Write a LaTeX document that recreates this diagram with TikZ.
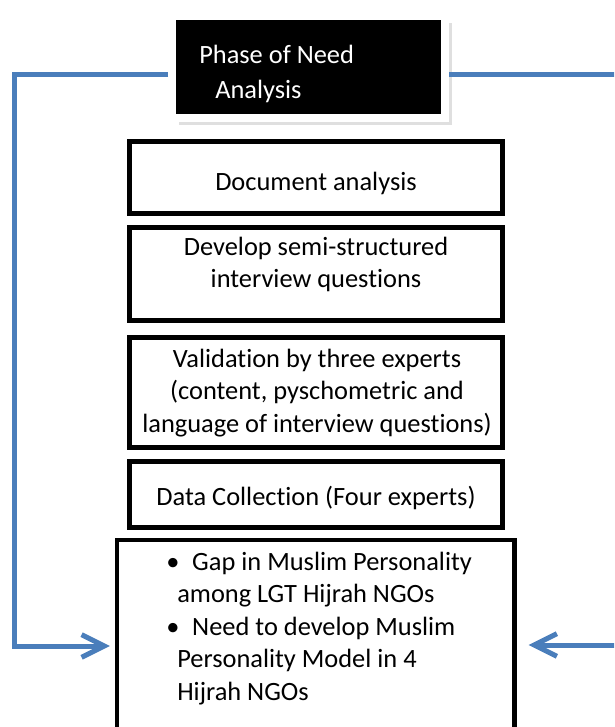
\documentclass[tikz,border=0pt]{standalone}
\usepackage{fontspec}
\setmainfont{Carlito}[Ligatures=NoCommon]
\usepackage{tikz}
\definecolor{linkblue}{HTML}{4A7EBB}
\usetikzlibrary{positioning, arrows.meta, shadows}
\tikzstyle{arrow} = [linkblue, line width=3.75pt, -{Straight Barb[length=17pt,width=17pt]}]
\newcommand{\pxu}{0.75pt}
\newcommand{\topstrut}{\rule{0pt}{16.5pt}}

\begin{document}
\begin{tikzpicture}[x=0.75pt, y=-0.75pt]
    \tikzstyle{every node}=[font=\fontsize{19.8pt}{24.4pt}\selectfont, inner sep=0pt]
    \tikzstyle{stagebox} = [draw=black, line width=3.75pt, fill=white]
    \tikzstyle{phasebox} = [draw=white, fill=black, line width=6pt,
        drop shadow={shadow xshift=5.5pt, shadow yshift=-5.5pt, opacity=0.25}]
    \tikzstyle{boxtext} = [align=center, anchor=north]

    \path[use as bounding box, clip] (0,0) rectangle (614,727);

    % phase heading
    \node[phasebox, minimum width=273*\pxu, minimum height=102*\pxu] (phase) at (308.5,67) {};
    \node[anchor=north west, align=left, text=white,
          font=\fontsize{19.8pt}{26.25pt}\selectfont] (phasetxt) at (199,41)
          {\topstrut Phase of Need\\\hspace*{12pt}Analysis};

    % steps
    \node[stagebox, minimum width=373*\pxu, minimum height=72*\pxu] (docbox) at (316,177.5) {};
    \node[boxtext] (doctxt) at (316,168) {\topstrut Document analysis};

    \node[stagebox, minimum width=373*\pxu, minimum height=93*\pxu] (devbox) at (316,274) {};
    \node[boxtext] (devtxt) at (316,233) {\topstrut Develop semi-structured\\interview questions};

    \node[stagebox, minimum width=373*\pxu, minimum height=110*\pxu] (valbox) at (316,392.5) {};
    \node[boxtext] (valtxt) at (317,345) {\topstrut Validation by three experts\\(content, pyschometric and\\language of interview questions)};

    \node[stagebox, minimum width=373*\pxu, minimum height=66*\pxu] (databox) at (316,494.5) {};
    \node[boxtext] (datatxt) at (316,483) {\topstrut Data Collection (Four experts)};

    % outcome
    \node[stagebox, line width=3.2pt, minimum width=397.5*\pxu, minimum height=241*\pxu] (needs) at (315.75,660.5) {};
    \node[anchor=north west, align=left] (needtxt) at (166,548)
          {\topstrut\makebox[19.5pt][l]{\textbullet}Gap in Muslim Personality\\
           \hspace*{8.25pt}among LGT Hijrah NGOs\\
           \makebox[19.5pt][l]{\textbullet}Need to develop Muslim\\
           \hspace*{8.25pt}Personality Model in 4\\
           \hspace*{8.25pt}Hijrah NGOs};

    % feedback lines
    \coordinate (ltop) at (14.5,75);
    \coordinate (lbot) at (14.5,646);
    \coordinate (rtop) at (624,75);
    \coordinate (rbot) at (624,645);
    \draw[arrow, shorten >=3.75pt] (phase.west |- ltop) -- (ltop) -- (lbot) -- (needs.west |- lbot);
    \draw[arrow, shorten >=9pt] (phase.east |- rtop) -- (rtop) -- (rbot) -- (needs.east |- rbot);
\end{tikzpicture}
\end{document}
